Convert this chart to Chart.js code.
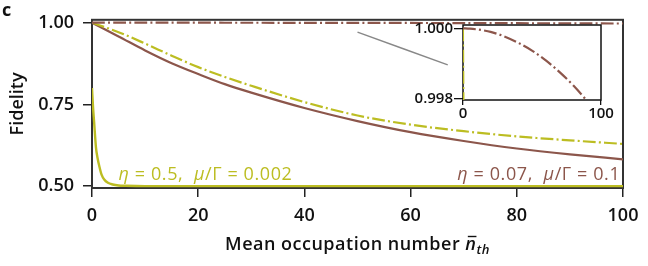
<!DOCTYPE html>
<html>
<head>
<meta charset="utf-8">
<script src="https://cdn.jsdelivr.net/npm/chart.js"></script>
<style>
  body { margin: 0; background: #fff; }
  #wrap { position: relative; width: 648px; height: 266px; }
  #main { position: absolute; left: 0; top: 0; }
  #inset { position: absolute; left: 400px; top: 15px; }
</style>
</head>
<body>
<div id="wrap">
  <canvas id="main" width="648" height="266"></canvas>
  <canvas id="inset" width="225" height="110"></canvas>
</div>
<script>
// mean occupation number grid for the slow curves
var nbar = [0, 5, 10, 15, 20, 25, 30, 40, 50, 60, 70, 80, 90, 100];
// eta = 0.07, mu/Gamma = 0.1 (brown)
var brownSolid   = [1.0, 0.958, 0.915, 0.876, 0.843, 0.812, 0.786, 0.739, 0.699, 0.665, 0.638, 0.615, 0.597, 0.582];
var brownDashDot = [1.0, 0.99999, 0.99997, 0.99994, 0.9999, 0.99984, 0.99977, 0.99959, 0.99937, 0.99909, 0.99876, 0.99838, 0.99794, 0.99746];
// eta = 0.5, mu/Gamma = 0.002 (olive)
var yellowDashDot = [1.0, 0.971, 0.936, 0.899, 0.864, 0.834, 0.807, 0.757, 0.716, 0.688, 0.668, 0.652, 0.640, 0.629];
var yellowSolidX = [0, 0.2, 0.4, 0.75, 1.0, 1.4, 1.8, 2.3, 3, 3.9, 5, 6.4, 10, 20, 40, 60, 80, 100];
var yellowSolid  = [0.80, 0.74, 0.696, 0.618, 0.59, 0.559, 0.535, 0.52, 0.51, 0.505, 0.502, 0.501, 0.5, 0.5, 0.5, 0.5, 0.5, 0.5];
// grey connector to the inset
var pointerX = [50, 67];
var pointerY = [0.971, 0.871];

var yTicks = [0.5, 0.75, 1.0];
var xTicks = [0, 20, 40, 60, 80, 100];
var insetYTicks = [0.998, 1.000];
var insetXTicks = [0, 100];

var BROWN = '#8c564b';
var OLIVE = '#bcbd22';
var INK = '#111';
var FAM = '"Open Sans", sans-serif';
var DASHDOT = [12.8, 3.2, 2, 3.2];

function xy(xs, ys) {
    return xs.map(function (x, i) { return { x: x, y: ys[i] }; });
}

function line(data, color, dash, width) {
    return {
        data: data,
        borderColor: color,
        borderWidth: width || 2,
        borderDash: dash || [],
        pointRadius: 0,
        fill: false,
        cubicInterpolationMode: 'monotone'
    };
}

function drawRuns(ctx, runs, x, y, align, color, spacing) {
    ctx.letterSpacing = (spacing || 0) + 'px';
    var widths = runs.map(function (r) { ctx.font = r.font; return ctx.measureText(r.t).width; });
    var total = widths.reduce(function (a, b) { return a + b; }, 0);
    var cx = align === 'right' ? x - total : (align === 'center' ? x - total / 2 : x);
    ctx.fillStyle = color;
    ctx.strokeStyle = color;
    ctx.textAlign = 'left';
    ctx.textBaseline = 'alphabetic';
    runs.forEach(function (r, i) {
        ctx.font = r.font;
        ctx.fillText(r.t, cx, y + (r.dy || 0));
        if (r.bar) {
            ctx.lineWidth = 1.4;
            ctx.beginPath();
            ctx.moveTo(cx + 2.5, y - 13.5);
            ctx.lineTo(cx + widths[i], y - 13.5);
            ctx.stroke();
        }
        cx += widths[i];
    });
    ctx.letterSpacing = '0px';
}

function frame(color, width) {
    return {
        id: 'frame',
        beforeDatasetsDraw: function (chart) {
            var a = chart.chartArea, ctx = chart.ctx;
            ctx.save();
            ctx.strokeStyle = color;
            ctx.lineWidth = width;
            ctx.strokeRect(a.left, a.top, a.right - a.left, a.bottom - a.top);
            ctx.restore();
        }
    };
}

var labels = {
    id: 'labels',
    afterDraw: function (chart) {
        var ctx = chart.ctx, a = chart.chartArea;
        var sx = chart.scales.x, sy = chart.scales.y;
        ctx.save();
        var reg = '400 18px ' + FAM, it = 'italic 400 18px ' + FAM;
        drawRuns(ctx, [
            { t: '\u03b7', font: it }, { t: ' = 0.5,  ', font: reg },
            { t: '\u03bc', font: it }, { t: '/\u0393 = 0.002', font: reg }
        ], sx.getPixelForValue(5), sy.getPixelForValue(0.52), 'left', OLIVE, 0.6);
        drawRuns(ctx, [
            { t: '\u03b7', font: it }, { t: ' = 0.07,  ', font: reg },
            { t: '\u03bc', font: it }, { t: '/\u0393 = 0.1', font: reg }
        ], sx.getPixelForValue(99.5), sy.getPixelForValue(0.52), 'right', BROWN, 0.6);
        // x axis title with n-bar_th
        drawRuns(ctx, [
            { t: 'Mean occupation number ', font: '600 18px ' + FAM },
            { t: 'n', font: 'italic 600 18px ' + FAM, bar: true },
            { t: 'th', font: 'italic 600 13px ' + FAM, dy: 4 }
        ], (a.left + a.right) / 2, 250, 'center', INK, 0.5);
        // panel letter
        ctx.font = '700 18px ' + FAM;
        ctx.fillStyle = INK;
        ctx.fillText('c', 2, 16);
        ctx.restore();
    }
};

new Chart(document.getElementById('main'), {
    type: 'line',
    data: {
        datasets: [
            line(xy(pointerX, pointerY), '#888', [], 1.4),
            line(xy(nbar, brownDashDot), BROWN, DASHDOT, 2.2),
            line(xy(nbar, yellowDashDot), OLIVE, DASHDOT, 2.2),
            line(xy(nbar, brownSolid), BROWN, [], 2.2),
            line(xy(yellowSolidX, yellowSolid), OLIVE, [], 2.4)
        ]
    },
    options: {
        responsive: false,
        animation: false,
        devicePixelRatio: 1,
        layout: { padding: { top: 13, right: 25, left: 0, bottom: 0 } },
        plugins: { legend: { display: false }, tooltip: { enabled: false } },
        scales: {
            x: {
                type: 'linear', min: 0, max: 100,
                afterBuildTicks: function (s) { s.ticks = xTicks.map(function (v) { return { value: v }; }); },
                afterFit: function (s) { s.height = 78; },
                border: { display: false },
                grid: { drawOnChartArea: false, drawTicks: true, tickLength: 9, color: '#222', lineWidth: 1.5 },
                ticks: { color: INK, padding: 8, maxRotation: 0, font: { family: FAM, size: 18, weight: '600' } }
            },
            y: {
                min: 0.4942, max: 1.0088,
                afterBuildTicks: function (s) { s.ticks = yTicks.map(function (v) { return { value: v }; }); },
                afterFit: function (s) { s.width = 92; },
                border: { display: false },
                grid: { drawOnChartArea: false, drawTicks: true, tickLength: 9, color: '#222', lineWidth: 1.5 },
                ticks: {
                    color: INK, padding: 9, font: { family: FAM, size: 18, weight: '600' },
                    callback: function (v) { return v.toFixed(2); }
                },
                title: { display: true, text: 'Fidelity', color: INK, padding: { top: 7, bottom: 0 }, font: { family: FAM, size: 18, weight: '600' } }
            }
        }
    },
    plugins: [frame('#333', 2), labels]
});

new Chart(document.getElementById('inset'), {
    type: 'line',
    data: {
        datasets: [
            line(xy(nbar, brownDashDot), BROWN, DASHDOT, 2.2),
            line(xy(nbar, yellowDashDot), OLIVE, DASHDOT, 2)
        ]
    },
    options: {
        responsive: false,
        animation: false,
        devicePixelRatio: 1,
        layout: { padding: { top: 7, right: 24, left: 0, bottom: 0 } },
        plugins: { legend: { display: false }, tooltip: { enabled: false } },
        scales: {
            x: {
                type: 'linear', min: 0, max: 100,
                afterBuildTicks: function (s) { s.ticks = insetXTicks.map(function (v) { return { value: v }; }); },
                afterFit: function (s) { s.height = 25; },
                border: { display: false },
                grid: { drawOnChartArea: false, drawTicks: true, tickLength: 5, color: '#111', lineWidth: 1.3 },
                ticks: { color: INK, padding: 0, maxRotation: 0, font: { family: FAM, size: 15, weight: '600' } }
            },
            y: {
                min: 0.997973, max: 1.000093,
                afterBuildTicks: function (s) { s.ticks = insetYTicks.map(function (v) { return { value: v }; }); },
                afterFit: function (s) { s.width = 63; },
                border: { display: false },
                grid: { drawOnChartArea: false, drawTicks: true, tickLength: 9, color: '#111', lineWidth: 1.3 },
                ticks: {
                    color: INK, padding: 1, font: { family: FAM, size: 15, weight: '600' },
                    callback: function (v) { return v.toFixed(3); }
                }
            }
        }
    },
    plugins: [frame('#111', 1.5)]
});
</script>
</body>
</html>
